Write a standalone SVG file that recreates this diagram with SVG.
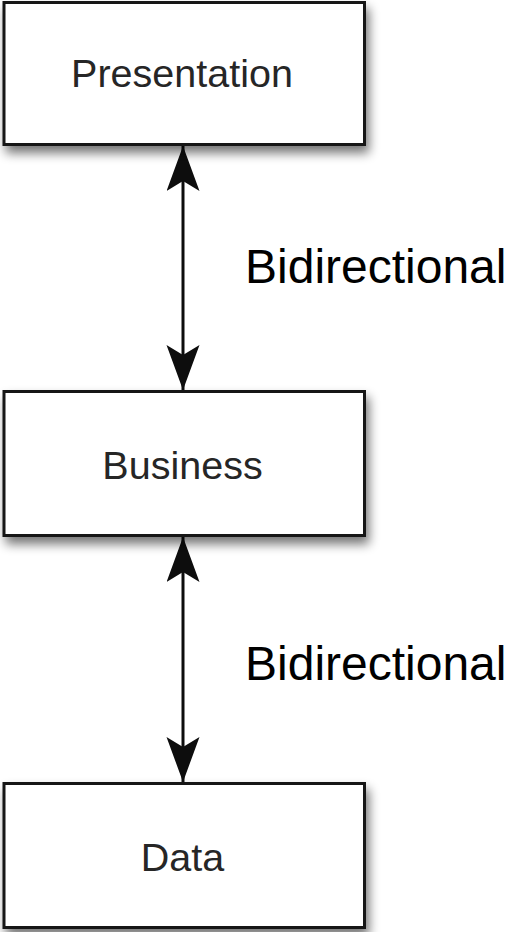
<svg xmlns="http://www.w3.org/2000/svg" width="510" height="932" viewBox="0 0 510 932">
  <style>
    .box { fill: #ffffff; stroke: #151515; stroke-width: 3; filter: url(#shadow); }
    .name { font-family: "Liberation Sans", Arial, sans-serif; font-size: 39.5px; fill: #262626; text-anchor: middle; }
    .label { font-family: "Liberation Sans", Arial, sans-serif; font-size: 48px; fill: #000000; }
    .link { stroke: #0d0d0d; stroke-width: 3; fill: none; marker-start: url(#head); marker-end: url(#head); }
  </style>
  <defs>
    <filter id="shadow" x="-10%" y="-10%" width="125%" height="135%">
      <feGaussianBlur in="SourceAlpha" stdDeviation="5.5"/>
      <feOffset dx="3" dy="7" result="blur"/>
      <feComponentTransfer><feFuncA type="linear" slope="0.55"/></feComponentTransfer>
      <feMerge><feMergeNode/><feMergeNode in="SourceGraphic"/></feMerge>
    </filter>
    <marker id="head" markerUnits="userSpaceOnUse" viewBox="0 0 46 34" markerWidth="46" markerHeight="34" refX="45" refY="16.5" orient="auto-start-reverse">
      <path d="M45,16.5 L0,0 L10,16.5 L0,33 Z" fill="#0d0d0d"/>
    </marker>
  </defs>

  <g id="connectors">
    <path class="link" d="M183,146 L183,390"/>
    <path class="link" d="M183,537 L183,782"/>
  </g>

  <g id="presentation">
    <rect class="box" x="4" y="2.5" width="360.5" height="142"/>
    <text class="name" x="182" y="87">Presentation</text>
  </g>
  <g id="business">
    <rect class="box" x="4" y="391.5" width="360.5" height="144"/>
    <text class="name" x="182.5" y="479">Business</text>
  </g>
  <g id="data">
    <rect class="box" x="4" y="783.5" width="360.5" height="144"/>
    <text class="name" x="182.5" y="871">Data</text>
  </g>

  <g id="labels">
    <text class="label" x="245" y="283">Bidirectional</text>
    <text class="label" x="245" y="680">Bidirectional</text>
  </g>
</svg>
